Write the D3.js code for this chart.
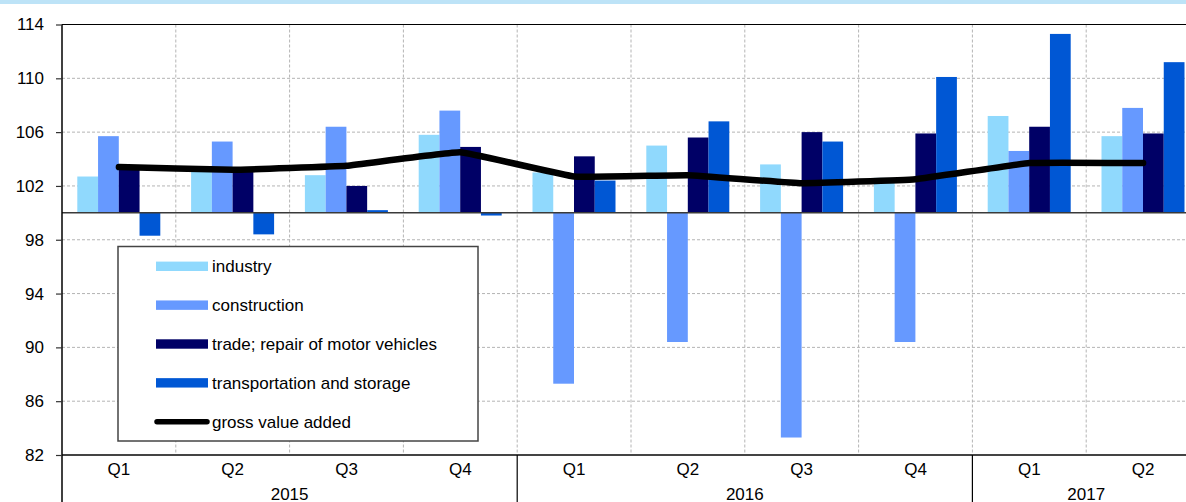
<!DOCTYPE html>
<html>
<head>
<meta charset="utf-8">
<script src="https://d3js.org/d3.v7.min.js"></script>
<style>
  body { margin: 0; background: #fff; }
  svg { display: block; font-family: "Liberation Sans", Arial, sans-serif; }
</style>
</head>
<body>
<script>
    var width = 1186;
    var height = 502;

    // data
    var quarters = ["Q1", "Q2", "Q3", "Q4", "Q1", "Q2", "Q3", "Q4", "Q1", "Q2"];
    var years = ["2015", "2016", "2017"];
    var yearSpans = [[0, 4], [4, 8], [8, 10]];
    var seriesNames = ["industry", "construction", "trade; repair of motor vehicles", "transportation and storage"];
    var industry     = [102.7, 103.2, 102.8, 105.8, 103.0, 105.0, 103.6, 102.6, 107.2, 105.7];
    var construction = [105.7, 105.3, 106.4, 107.6, 87.3, 90.4, 83.3, 90.4, 104.6, 107.8];
    var trade        = [103.3, 103.2, 102.0, 104.9, 104.2, 105.6, 106.0, 105.9, 106.4, 105.9];
    var transport    = [98.3, 98.4, 100.2, 99.8, 102.4, 106.8, 105.3, 110.1, 113.3, 111.2];
    var gva          = [103.4, 103.2, 103.5, 104.5, 102.7, 102.8, 102.2, 102.5, 103.7, 103.7];
    var yTicks = [82, 86, 90, 94, 98, 102, 106, 110, 114];
    var colors = ["#90d9fd", "#6699ff", "#000066", "#0057d4"];

    var seriesValues = [industry, construction, trade, transport];

    var svg = d3.select("body")
    .append("svg")
    .attr("width", width)
    .attr("height", height);

    // light blue band at the top
    svg.append("rect")
    .attr("x", 0).attr("y", 0)
    .attr("width", width).attr("height", 4)
    .attr("fill", "#bde3f7");

    var plotLeft = 62, plotRight = 1200, plotTop = 24.5, plotBottom = 455;

    var scaleY = d3.scaleLinear()
    .domain([82, 114])
    .range([plotBottom, plotTop]);

    var scaleX = d3.scaleBand()
    .domain(d3.range(quarters.length))
    .range([plotLeft, plotRight]);

    var scaleS = d3.scaleBand()
    .domain(d3.range(seriesNames.length))
    .range([15.3, 98.3]);

    // horizontal grid
    svg.append("g")
    .selectAll("line")
    .data(yTicks.filter(function(d){ return d != 82 && d != 114 && d != 100; }))
    .enter()
    .append("line")
    .attr("x1", plotLeft).attr("x2", width)
    .attr("y1", function(d){ return scaleY(d); })
    .attr("y2", function(d){ return scaleY(d); })
    .attr("stroke", "#b4b4b4")
    .attr("stroke-width", 1)
    .attr("stroke-dasharray", "3,2");

    // vertical grid at category boundaries
    svg.append("g")
    .selectAll("line")
    .data(d3.range(1, quarters.length))
    .enter()
    .append("line")
    .attr("x1", function(d){ return scaleX(d); })
    .attr("x2", function(d){ return scaleX(d); })
    .attr("y1", plotTop).attr("y2", plotBottom)
    .attr("stroke", "#b4b4b4")
    .attr("stroke-width", 1)
    .attr("stroke-dasharray", "3,2");

    // bars
    var rows = [];
    for (var s = 0; s < seriesValues.length; s++) {
        for (var i = 0; i < quarters.length; i++) {
            rows.push({s: s, i: i, v: seriesValues[s][i]});
        }
    }

    svg.append("g")
    .selectAll("rect")
    .data(rows)
    .enter()
    .append("rect")
    .attr("x", function(d){ return scaleX(d.i) + scaleS(d.s); })
    .attr("width", scaleS.bandwidth())
    .attr("y", function(d){ return Math.min(scaleY(d.v), scaleY(100)); })
    .attr("height", function(d){ return Math.abs(scaleY(d.v) - scaleY(100)); })
    .attr("fill", function(d){ return colors[d.s]; });

    // zero line at 100
    svg.append("line")
    .attr("x1", plotLeft).attr("x2", width)
    .attr("y1", scaleY(100)).attr("y2", scaleY(100))
    .attr("stroke", "#3a3a3a")
    .attr("stroke-width", 1.5);

    // gross value added line
    var line = d3.line()
    .x(function(d, i){ return scaleX(i) + scaleX.bandwidth() / 2; })
    .y(function(d){ return scaleY(d); })
    .curve(d3.curveCardinal.tension(0.75));

    svg.append("path")
    .datum(gva)
    .attr("d", line)
    .attr("fill", "none")
    .attr("stroke", "#000")
    .attr("stroke-width", 6.5)
    .attr("stroke-linecap", "round")
    .attr("stroke-linejoin", "round");

    // top border
    svg.append("line")
    .attr("x1", plotLeft).attr("x2", width)
    .attr("y1", plotTop).attr("y2", plotTop)
    .attr("stroke", "#000")
    .attr("stroke-width", 1.2);

    // bottom axis line
    svg.append("line")
    .attr("x1", plotLeft).attr("x2", width)
    .attr("y1", plotBottom).attr("y2", plotBottom)
    .attr("stroke", "#444")
    .attr("stroke-width", 2);

    // y axis
    var yAxis = svg.append("g")
    .attr("transform", "translate(" + plotLeft + ",0)")
    .call(d3.axisLeft(scaleY).tickValues(yTicks).tickSize(6).tickPadding(12).tickFormat(d3.format("d")));
    yAxis.select(".domain").attr("stroke", "#000").attr("stroke-width", 1.5).attr("d", "M0," + plotTop + "V" + height);
    yAxis.selectAll(".tick line").attr("stroke", "#333").attr("stroke-width", 1.2);
    yAxis.selectAll(".tick text")
    .attr("font-size", 17)
    .attr("font-family", "Liberation Sans, Arial, sans-serif")
    .attr("fill", "#000");

    // quarter labels
    svg.append("g")
    .selectAll("text")
    .data(quarters)
    .enter()
    .append("text")
    .attr("x", function(d, i){ return scaleX(i) + scaleX.bandwidth() / 2; })
    .attr("y", 474.5)
    .attr("text-anchor", "middle")
    .attr("font-size", 17)
    .text(function(d){ return d; });

    // year separators and labels
    svg.append("g")
    .selectAll("line")
    .data(yearSpans.slice(1))
    .enter()
    .append("line")
    .attr("x1", function(d){ return scaleX(d[0]); })
    .attr("x2", function(d){ return scaleX(d[0]); })
    .attr("y1", plotBottom).attr("y2", height)
    .attr("stroke", "#000")
    .attr("stroke-width", 1.2);

    svg.append("g")
    .selectAll("text")
    .data(years)
    .enter()
    .append("text")
    .attr("x", function(d, i){
        var a = scaleX(yearSpans[i][0]);
        var b = yearSpans[i][1] < quarters.length ? scaleX(yearSpans[i][1]) : plotRight;
        return (a + b) / 2;
    })
    .attr("y", 499.5)
    .attr("text-anchor", "middle")
    .attr("font-size", 17)
    .text(function(d){ return d; });

    // legend
    var legend = svg.append("g");
    legend.append("rect")
    .attr("x", 118).attr("y", 246.5)
    .attr("width", 360).attr("height", 194.5)
    .attr("fill", "#fff")
    .attr("stroke", "#444")
    .attr("stroke-width", 1.5);

    var legendItems = seriesNames.concat(["gross value added"]);
    var item = legend.selectAll("g.item")
    .data(legendItems)
    .enter()
    .append("g")
    .attr("class", "item")
    .attr("transform", function(d, i){ return "translate(0," + (266.3 + i * 38.85) + ")"; });

    item.filter(function(d, i){ return i < 4; })
    .append("rect")
    .attr("x", 156).attr("y", -4.7)
    .attr("width", 52).attr("height", 9.4)
    .attr("fill", function(d, i){ return colors[i]; });

    item.filter(function(d, i){ return i == 4; })
    .append("line")
    .attr("x1", 157).attr("x2", 207)
    .attr("y1", 0).attr("y2", 0)
    .attr("stroke", "#000")
    .attr("stroke-width", 5.5)
    .attr("stroke-linecap", "round");

    item.append("text")
    .attr("x", 212)
    .attr("y", 0)
    .attr("dy", "0.35em")
    .attr("font-size", 17)
    .text(function(d){ return d; });
</script>
</body>
</html>
